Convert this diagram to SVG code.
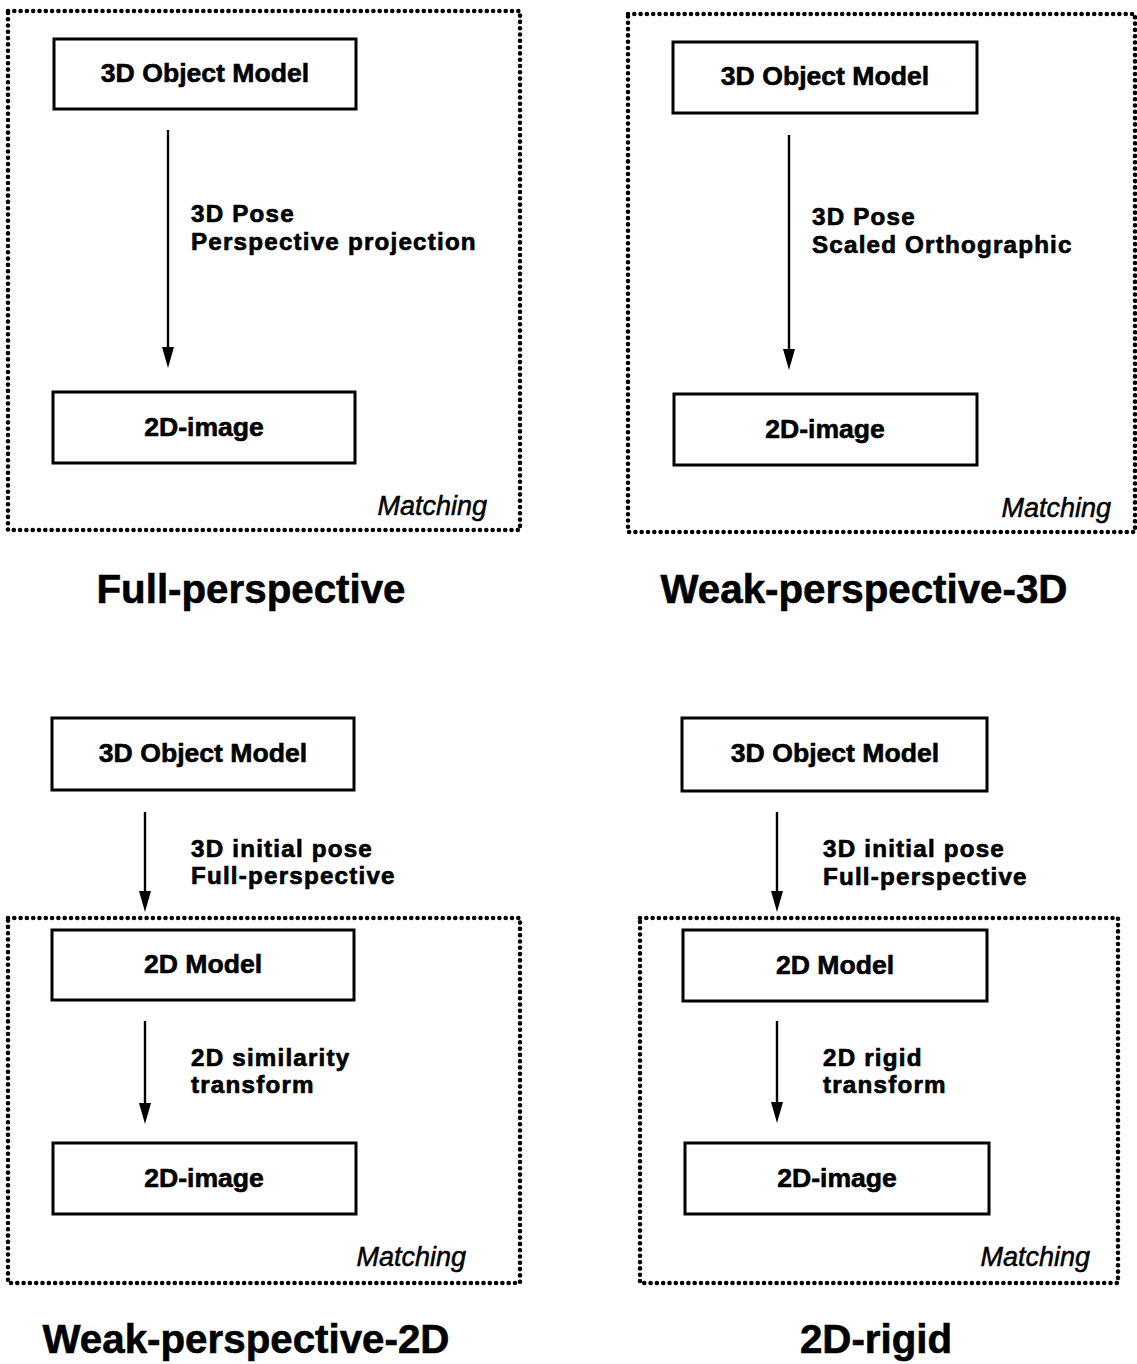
<svg xmlns="http://www.w3.org/2000/svg" width="1137" height="1364" viewBox="0 0 1137 1364">
<style>
.frame{fill:none;stroke:#000;stroke-width:4.6;stroke-dasharray:0 6.3;stroke-linecap:round}
.box{fill:#fff;stroke:#000;stroke-width:3}
.bl{font-family:"Liberation Sans",Arial,sans-serif;font-weight:bold;font-size:26.6px;text-anchor:middle;fill:#000;stroke:#000;stroke-width:0.6}
.lab{font-family:"Liberation Sans",Arial,sans-serif;font-weight:bold;font-size:24.2px;letter-spacing:1.2px;fill:#000;stroke:#000;stroke-width:0.7}
.mat{font-family:"Liberation Sans",Arial,sans-serif;font-style:italic;font-size:27px;text-anchor:end;fill:#000;stroke:#000;stroke-width:0.5}
.tit{font-family:"Liberation Sans",Arial,sans-serif;font-weight:bold;font-size:40.3px;text-anchor:middle;fill:#000;stroke:#000;stroke-width:0.6}
.ar{stroke:#000;stroke-width:2.4;fill:none}
</style>

<g id="frames">
<rect id="frame1" class="frame" x="8" y="11" width="512" height="519"/>
<rect id="frame2" class="frame" x="628" y="14" width="507" height="518"/>
<rect id="frame3" class="frame" x="8" y="918" width="512" height="365"/>
<rect id="frame4" class="frame" x="640" y="918" width="478" height="365"/>
</g>

<g id="connectors">
<line class="ar" x1="168" y1="130" x2="168" y2="350"/>
<path d="M162,347 L174,347 L168,368 Z" fill="#000"/>
<line class="ar" x1="789" y1="135" x2="789" y2="352"/>
<path d="M783,349 L795,349 L789,370 Z" fill="#000"/>
<line class="ar" x1="145" y1="812" x2="145" y2="894"/>
<path d="M139,891 L151,891 L145,912 Z" fill="#000"/>
<line class="ar" x1="145" y1="1021" x2="145" y2="1106"/>
<path d="M139,1103 L151,1103 L145,1124 Z" fill="#000"/>
<line class="ar" x1="777" y1="812" x2="777" y2="894"/>
<path d="M771,891 L783,891 L777,912 Z" fill="#000"/>
<line class="ar" x1="777" y1="1021" x2="777" y2="1105"/>
<path d="M771,1102 L783,1102 L777,1123 Z" fill="#000"/>
</g>

<g id="labels">
<text class="lab" x="191" y="222">3D Pose</text>
<text class="lab" x="191" y="250">Perspective projection</text>
<text class="lab" x="812" y="225">3D Pose</text>
<text class="lab" x="812" y="253">Scaled Orthographic</text>
<text class="lab" x="191" y="857">3D initial pose</text>
<text class="lab" x="191" y="884">Full-perspective</text>
<text class="lab" x="191" y="1066">2D similarity</text>
<text class="lab" x="191" y="1093">transform</text>
<text class="lab" x="823" y="857">3D initial pose</text>
<text class="lab" x="823" y="885">Full-perspective</text>
<text class="lab" x="823" y="1066">2D rigid</text>
<text class="lab" x="823" y="1093">transform</text>
<text class="mat" x="487" y="515">Matching</text>
<text class="mat" x="1111" y="517">Matching</text>
<text class="mat" x="466" y="1266">Matching</text>
<text class="mat" x="1090" y="1266">Matching</text>
</g>

<g id="p1-model"><rect class="box" x="54" y="39" width="302" height="70"/><text class="bl" x="205" y="82">3D Object Model</text></g>
<g id="p1-image"><rect class="box" x="53" y="392" width="302" height="71"/><text class="bl" x="204" y="436">2D-image</text></g>
<g id="p2-model"><rect class="box" x="673" y="42" width="304" height="71"/><text class="bl" x="825" y="85">3D Object Model</text></g>
<g id="p2-image"><rect class="box" x="674" y="394" width="303" height="71"/><text class="bl" x="825" y="438">2D-image</text></g>
<g id="p3-model"><rect class="box" x="52" y="718" width="302" height="72"/><text class="bl" x="203" y="762">3D Object Model</text></g>
<g id="p3-2dmodel"><rect class="box" x="52" y="930" width="302" height="70"/><text class="bl" x="203" y="973">2D Model</text></g>
<g id="p3-image"><rect class="box" x="53" y="1143" width="303" height="71"/><text class="bl" x="204" y="1187">2D-image</text></g>
<g id="p4-model"><rect class="box" x="682" y="718" width="305" height="73"/><text class="bl" x="835" y="762">3D Object Model</text></g>
<g id="p4-2dmodel"><rect class="box" x="683" y="930" width="304" height="71"/><text class="bl" x="835" y="974">2D Model</text></g>
<g id="p4-image"><rect class="box" x="685" y="1143" width="304" height="71"/><text class="bl" x="837" y="1187">2D-image</text></g>

<g id="titles">
<text class="tit" x="251" y="603">Full-perspective</text>
<text class="tit" x="864" y="603">Weak-perspective-3D</text>
<text class="tit" x="246" y="1353">Weak-perspective-2D</text>
<text class="tit" x="876" y="1353">2D-rigid</text>
</g>
</svg>
